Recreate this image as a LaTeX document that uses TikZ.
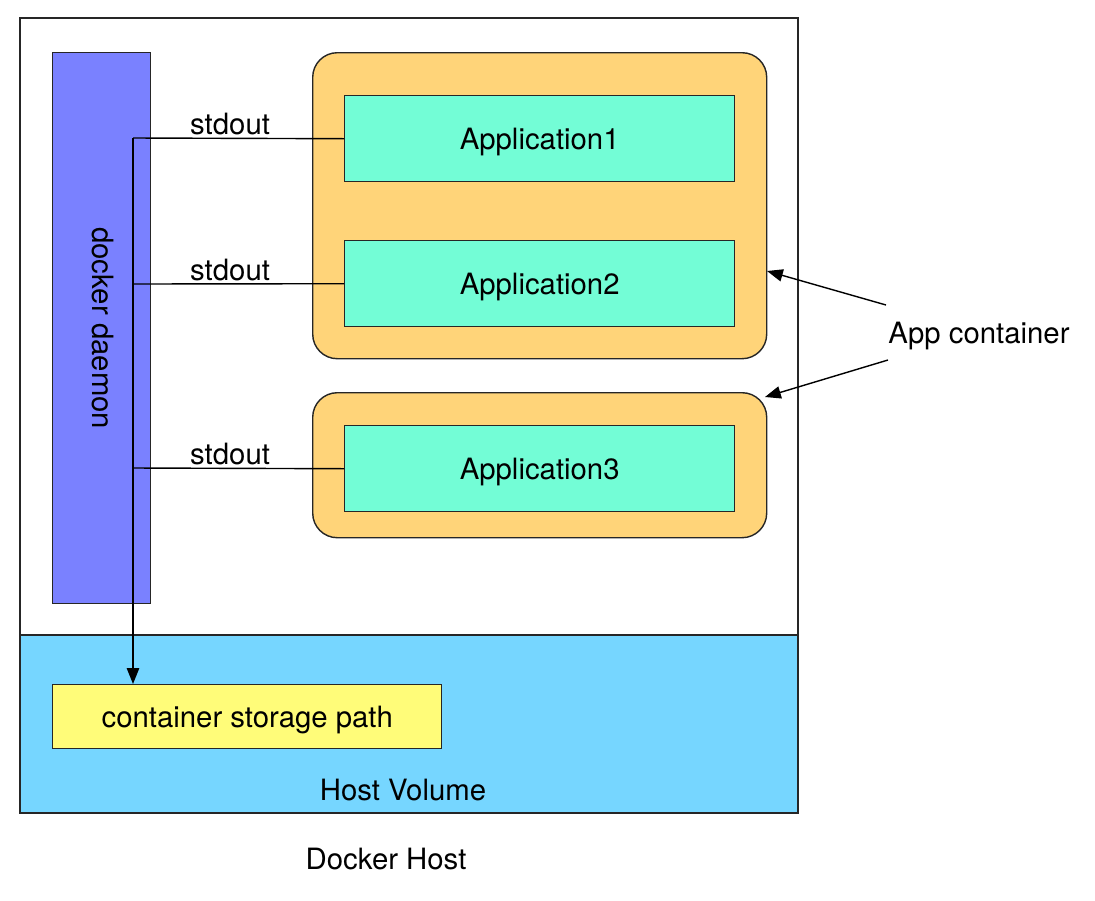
\documentclass[tikz,border=0pt]{standalone}
\usepackage{fontspec}
\setmainfont{TeX Gyre Heros}
\usetikzlibrary{arrows.meta}
\definecolor{daemonblue}{HTML}{7A81FF}
\definecolor{volblue}{HTML}{76D6FF}
\definecolor{orangebox}{HTML}{FFD479}
\definecolor{appaqua}{HTML}{73FDD6}
\definecolor{pathyellow}{HTML}{FFFC79}
\tikzset{
  box/.style={draw=black!85, line width=0.8pt},
  lbl/.style={font=\fontsize{16.7}{20}\selectfont, inner sep=0pt},
  conn/.style={draw=black, line width=0.8pt},
  arr/.style={conn, -{Triangle[length=9pt,width=7pt]}},
}
\begin{document}
\begin{tikzpicture}[x=0.02cm,y=-0.02cm]
\useasboundingbox (0,0) rectangle (1095,900);
% outer host
\draw[box] (20,18) rectangle (798,813);
% host volume
\draw[box, fill=volblue] (20,635) rectangle (798,813);
\node[lbl] (hv) at (403,790) {Host Volume};
\node[lbl] (dh) at (386,859) {Docker Host};
% storage path
\node[box, fill=pathyellow, minimum width=389*0.02cm, minimum height=64*0.02cm, anchor=north west, inner sep=0pt] (csp) at (52,684) {};
\node[lbl] at ([yshift=-2pt]csp.center) {container storage path};
% daemon
\node[box, fill=daemonblue, minimum width=98*0.02cm, minimum height=551*0.02cm, anchor=north west, inner sep=0pt] (daemon) at (52,52) {};
\node[lbl, rotate=-90] at ([xshift=1pt]daemon.center) {docker daemon};
% containers
\node[box, fill=orangebox, rounded corners=14pt, minimum width=454*0.02cm, minimum height=306*0.02cm, anchor=north west, inner sep=0pt] (c1) at (312,52) {};
\node[box, fill=orangebox, rounded corners=14pt, minimum width=454*0.02cm, minimum height=145*0.02cm, anchor=north west, inner sep=0pt] (c2) at (312,392) {};
% applications
\foreach \n/\y in {1/95,2/240,3/425}{
  \node[box, fill=appaqua, minimum width=390*0.02cm, minimum height=86*0.02cm, anchor=north west, inner sep=0pt] (app\n) at (344,\y) {};
  \node[lbl] at ([yshift=-2pt]app\n.center) {Application\n};
}
% connectors
\coordinate (j1) at (133,138);
\coordinate (j2) at (133,284);
\coordinate (j3) at (133,468);
\draw[conn] (j1) -- (app1.west) node[lbl, pos=0.46, above=1.5pt] {stdout};
\draw[conn] (j2) -- (app2.west) node[lbl, pos=0.46, above=1.5pt] {stdout};
\draw[conn] (j3) -- (app3.west) node[lbl, pos=0.46, above=1.5pt] {stdout};
\draw[arr] (j1) -- (csp.north west -| j1);
% app container label
\node[lbl] (appc) at (979,336) {App container};
\coordinate (a1) at (886,305);
\coordinate (a2) at (888,360);
\draw[arr] (a1) -- (767,271);
\draw[arr] (a2) -- (765,397);
\end{tikzpicture}
\end{document}
